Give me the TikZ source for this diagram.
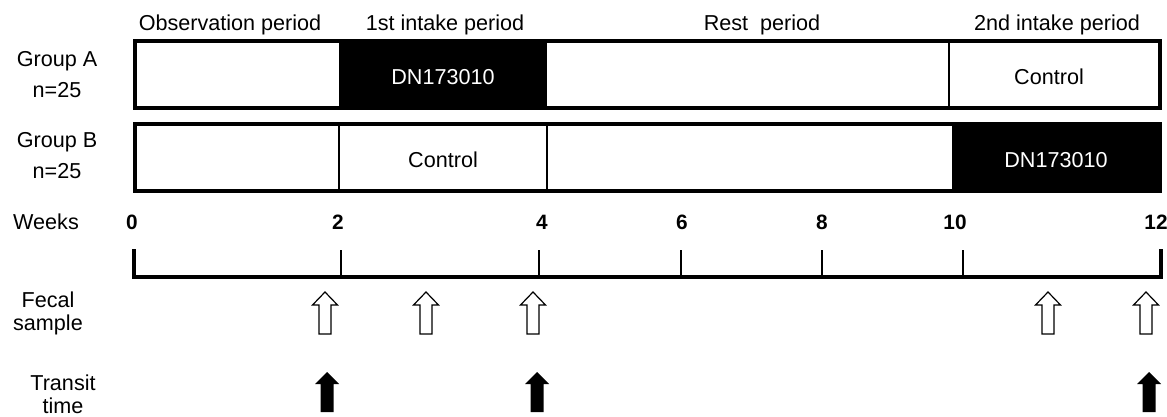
\documentclass[tikz,border=0pt]{standalone}
\usepackage{fontspec}
\setmainfont{Liberation Sans}
\begin{document}
\begin{tikzpicture}[x=0.5pt,y=-0.5pt,
  txt/.style={inner sep=0pt,font=\fontsize{10.8}{12.5}\selectfont,align=center},
  num/.style={txt,font=\fontsize{10.4}{12.5}\selectfont\bfseries},
  frame/.style={draw=black,line width=1.75pt},
  divider/.style={draw=black,line width=0.6pt},
  blackcell/.style={fill=black},
  axis/.style={line width=2pt},
  tick/.style={line width=0.6pt},
  openarrow/.style={draw=black,fill=white,line width=0.6pt},
  fullarrow/.style={fill=black}]
\useasboundingbox (0,0) rectangle (1167,417);
% Period headers
\node[txt] (hobs) at (230,25) {Observation period};
\node[txt] (h1st) at (445,25) {1st intake period};
\node[txt] (hrest) at (762,25) {Rest\ \ period};
\node[txt] (h2nd) at (1057,25) {2nd intake period};
% Group labels
\node[txt] (ga) at (57,75) {Group A\\[3pt]n=25};
\node[txt] (gb) at (57,156) {Group B\\[3pt]n=25};
% Group A bar
\fill[blackcell] (339,41) rectangle (547,108);
\draw[divider] (949,41) -- (949,108);
\draw[frame] (135,41) rectangle (1160,108);
\node[txt,text=white] (adn) at (443,77) {DN173010};
\node[txt] (actl) at (1049,77) {Control};
% Group B bar
\fill[blackcell] (952,124) rectangle (1160,191);
\draw[divider] (339,124) -- (339,191);
\draw[divider] (547,124) -- (547,191);
\draw[frame] (135,124) rectangle (1160,191);
\node[txt] (bctl) at (443,160) {Control};
\node[txt,text=white] (bdn) at (1056,160) {DN173010};
% Weeks axis
\node[txt] (weeks) at (46,222) {Weeks};
\foreach \x/\l in {132/0,338/2,542/4,682/6,822/8,955/10,1156/12}
  \node[num] (w\l) at (\x,222) {\l};
\draw[axis,line join=miter] (134,249) -- (134,277) -- (1161,277) -- (1161,249);
\foreach \x in {341,539,681,822,963}
  \draw[tick] (\x,250) -- (\x,277);
% Fecal sample
\node[txt,font=\fontsize{10.8}{11.5}\selectfont] (fecal) at (48,313) {Fecal\\sample};
\foreach \x in {325,426,533,1048,1146}
  \draw[openarrow] (\x,292) -- (\x+12.5,305) -- (\x+6,305) -- (\x+6,334)
     -- (\x-6,334) -- (\x-6,305) -- (\x-12.5,305) -- cycle;
% Transit time
\node[txt,font=\fontsize{10.8}{11.5}\selectfont] (transit) at (63,394) {Transit\\time};
\foreach \x in {327,537,1149}
  \fill[fullarrow] (\x,372) -- (\x+12,384) -- (\x+6.5,384) -- (\x+6.5,412)
     -- (\x-6.5,412) -- (\x-6.5,384) -- (\x-12,384) -- cycle;
\end{tikzpicture}
\end{document}
